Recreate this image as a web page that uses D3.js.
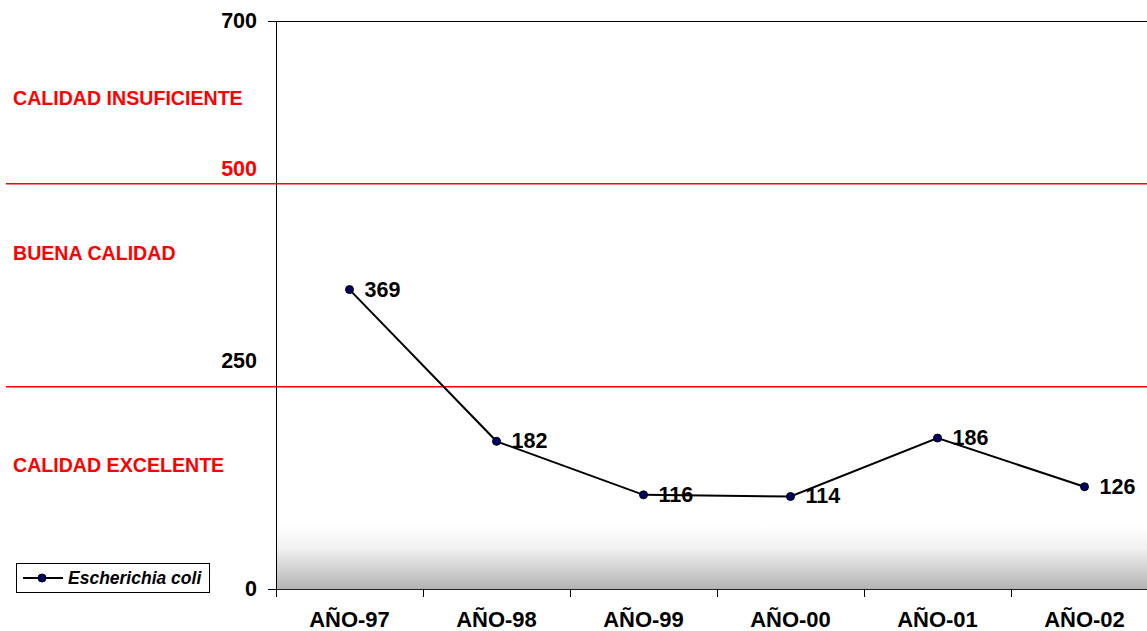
<!DOCTYPE html>
<html>
<head>
<meta charset="utf-8">
<script src="https://cdn.jsdelivr.net/npm/d3@7"></script>
<style>
  html, body { margin: 0; padding: 0; background: #fff; }
  svg { display: block; font-family: "Liberation Sans", Arial, sans-serif; }
</style>
</head>
<body>
<svg id="chart" width="1147" height="631"></svg>
<script>
// E. coli yearly values (UFC/100 ml)
const years = ["AÑO-97", "AÑO-98", "AÑO-99", "AÑO-00", "AÑO-01", "AÑO-02"];
const ecoli = [369, 182, 116, 114, 186, 126];
const seriesName = "Escherichia coli";

// quality thresholds and zone names
const thresholds = [500, 250];
const zoneNames = ["CALIDAD INSUFICIENTE", "BUENA CALIDAD", "CALIDAD EXCELENTE"];
const yTicks = [0, 700];

(function () {
const svg = d3.select("#chart");
const W = 1147;
const plotLeft = 276, plotTop = 21, plotBottom = 589, band = 147;

const x = d3.scaleBand().domain(years).range([plotLeft, plotLeft + band * years.length]).padding(0);
const y = d3.scaleLinear().domain([0, 700]).range([plotBottom, plotTop]);

// bottom shading of the plot area
const defs = svg.append("defs");
const grad = defs.append("linearGradient").attr("id", "floor").attr("x1", 0).attr("y1", 0).attr("x2", 0).attr("y2", 1);
grad.append("stop").attr("offset", "0").attr("stop-color", "#ffffff");
grad.append("stop").attr("offset", "0.35").attr("stop-color", "#f2f2f2");
grad.append("stop").attr("offset", "1").attr("stop-color", "#b4b4b4");
svg.append("rect")
  .attr("x", plotLeft).attr("y", 525)
  .attr("width", W - plotLeft).attr("height", plotBottom - 525)
  .attr("fill", "url(#floor)");

// top border of the plot area
svg.append("line")
  .attr("x1", plotLeft).attr("x2", W)
  .attr("y1", y(700) + 0.5).attr("y2", y(700) + 0.5)
  .attr("stroke", "#000").attr("stroke-width", 1.2);

// threshold lines
svg.selectAll(".thr").data(thresholds).join("line")
  .attr("class", "thr")
  .attr("x1", 6).attr("x2", W)
  .attr("y1", d => y(d) + 0.5).attr("y2", d => y(d) + 0.5)
  .attr("stroke", "#ff0000").attr("stroke-width", 1.5);

// y axis
const yAxis = svg.append("g")
  .attr("transform", `translate(${plotLeft},0)`)
  .call(d3.axisLeft(y).tickValues(yTicks).tickSize(8).tickPadding(11).tickFormat(d3.format("d")));
yAxis.select(".domain").attr("d", `M0.5,${y(700)}V${plotBottom + 8}`).attr("stroke", "#000");
yAxis.selectAll(".tick line").attr("stroke", "#000");
yAxis.selectAll(".tick text")
  .attr("font-size", 21.5).attr("font-weight", "bold").attr("fill", "#000")
  .attr("font-family", "Liberation Sans, Arial, sans-serif");

// threshold value labels
svg.append("text")
  .attr("x", 257).attr("y", y(thresholds[0]) - 7)
  .attr("text-anchor", "end").attr("font-size", 21.5).attr("font-weight", "bold")
  .attr("fill", "#ff0000").text(thresholds[0]);
svg.append("text")
  .attr("x", 257).attr("y", y(thresholds[1]) - 18)
  .attr("text-anchor", "end").attr("font-size", 21.5).attr("font-weight", "bold")
  .attr("fill", "#000").text(thresholds[1]);

// zone names
const zoneY = [105, 260, 472];
svg.selectAll(".zone").data(zoneNames).join("text")
  .attr("class", "zone")
  .attr("x", 13).attr("y", (d, i) => zoneY[i])
  .attr("font-size", 19.6).attr("font-weight", "bold").attr("fill", "#ff0000")
  .text(d => d);

// x axis
const xAxis = svg.append("g")
  .attr("transform", `translate(0,${plotBottom})`)
  .call(d3.axisBottom(x).tickSize(0).tickPadding(22));
xAxis.select(".domain").attr("d", `M${plotLeft},0.5H${W}`).attr("stroke", "#222").attr("stroke-width", 1.2);
xAxis.selectAll(".tick text")
  .attr("font-size", 22).attr("font-weight", "bold").attr("fill", "#000")
  .attr("font-family", "Liberation Sans, Arial, sans-serif");

// tick marks between categories
svg.selectAll(".xtick").data(years.slice(1)).join("line")
  .attr("class", "xtick")
  .attr("x1", d => x(d) + 0.5).attr("x2", d => x(d) + 0.5)
  .attr("y1", plotBottom).attr("y2", plotBottom + 8)
  .attr("stroke", "#000");

// series line
const pts = years.map((c, i) => ({ c, v: ecoli[i] }));
const line = d3.line().x(d => x(d.c) + x.bandwidth() / 2).y(d => y(d.v));
svg.append("path").datum(pts)
  .attr("d", line).attr("fill", "none")
  .attr("stroke", "#000").attr("stroke-width", 2);

svg.selectAll(".pt").data(pts).join("circle")
  .attr("class", "pt")
  .attr("cx", d => x(d.c) + x.bandwidth() / 2).attr("cy", d => y(d.v))
  .attr("r", 4).attr("fill", "#000066").attr("stroke", "#000").attr("stroke-width", 1);

svg.selectAll(".val").data(pts).join("text")
  .attr("class", "val")
  .attr("x", d => x(d.c) + x.bandwidth() / 2 + 15).attr("y", d => y(d.v) + 7)
  .attr("font-size", 21.5).attr("font-weight", "bold").attr("fill", "#000")
  .text(d => d.v);

// legend
const lg = svg.append("g");
lg.append("rect").attr("x", 16.5).attr("y", 563.5).attr("width", 193).attr("height", 29)
  .attr("fill", "#fff").attr("stroke", "#000").attr("stroke-width", 1);
lg.append("line").attr("x1", 23).attr("x2", 63).attr("y1", 578).attr("y2", 578)
  .attr("stroke", "#000").attr("stroke-width", 2);
lg.append("circle").attr("cx", 42).attr("cy", 578).attr("r", 4)
  .attr("fill", "#000066").attr("stroke", "#000");
lg.append("text").attr("x", 68).attr("y", 584)
  .attr("font-size", 17.5).attr("font-weight", "bold").attr("font-style", "italic")
  .text(seriesName);
})();
</script>
</body>
</html>
